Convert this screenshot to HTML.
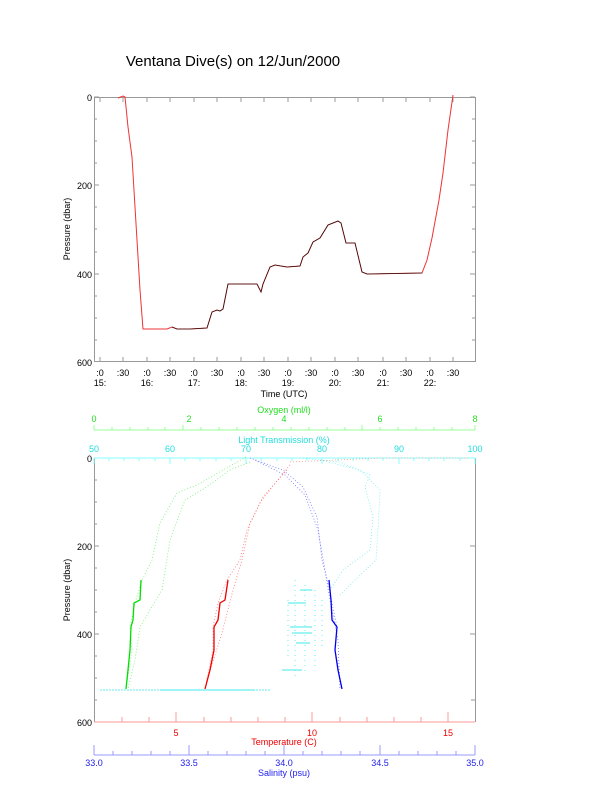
<!DOCTYPE html>
<html><head><style>body{margin:0;background:#fff}svg{display:block}text{font-family:"Liberation Sans",sans-serif}</style></head>
<body>
<svg width="612" height="785" viewBox="0 0 612 785" xmlns="http://www.w3.org/2000/svg">
<rect width="612" height="785" fill="#fff"/>
<text x="233" y="66" font-size="15" text-anchor="middle">Ventana Dive(s) on 12/Jun/2000</text>
<g stroke="#999" fill="none" stroke-width="1">
<rect x="94.5" y="97.5" width="381" height="264"/>
<path d="M94 97h5M94 119h3M94 141h3M94 163h3M94 185h5M94 207h3M94 229h3M94 252h3M94 274h5M94 296h3M94 318h3M94 340h3
M475 97h-5M475 119h-3M475 141h-3M475 163h-3M475 185h-5M475 207h-3M475 229h-3M475 252h-3M475 274h-5M475 296h-3M475 318h-3M475 340h-3
M100 362v-5M123 362v-5M147 362v-5M170 362v-5M194 362v-5M217 362v-5M241 362v-5M264 362v-5M288 362v-5M311 362v-5M335 362v-5M358 362v-5M383 362v-5M406 362v-5M430 362v-5M453 362v-5
M100 97v5M123 97v5M147 97v5M170 97v5M194 97v5M217 97v5M241 97v5M264 97v5M288 97v5M311 97v5M335 97v5M358 97v5M383 97v5M406 97v5M430 97v5M453 97v5"/>
</g>
<g font-size="9" text-anchor="end"><text x="92" y="101">0</text><text x="92" y="189">200</text><text x="92" y="278">400</text><text x="92" y="366">600</text></g>
<g font-size="9" text-anchor="middle">
<text x="100" y="376">:0</text><text x="123" y="376">:30</text><text x="147" y="376">:0</text><text x="170" y="376">:30</text><text x="194" y="376">:0</text><text x="217" y="376">:30</text><text x="241" y="376">:0</text><text x="264" y="376">:30</text><text x="288" y="376">:0</text><text x="311" y="376">:30</text><text x="335" y="376">:0</text><text x="358" y="376">:30</text><text x="383" y="376">:0</text><text x="406" y="376">:30</text><text x="430" y="376">:0</text><text x="453" y="376">:30</text>
<text x="100" y="386">15:</text><text x="147" y="386">16:</text><text x="194" y="386">17:</text><text x="241" y="386">18:</text><text x="288" y="386">19:</text><text x="335" y="386">20:</text><text x="383" y="386">21:</text><text x="430" y="386">22:</text>
<text x="284" y="397">Time (UTC)</text></g>
<text transform="translate(70,229) rotate(-90)" font-size="9" text-anchor="middle">Pressure (dbar)</text>
<path d="M118 98L123 96L125 97L128 127L132 157L135 207L140 290L143 329L167 329L172 327L177 329L190 329L207 328L212 312L217 310L220 311L223 309L228 284L257 284L261 292L263 284L270 267L275 265L287 267L300 266L303 257L308 253L313 242L320 238L328 225L338 221L341 223L346 243L355 243L362 272L367 274L422 273L427 260L432 238L439 200L443 173L448 130L453 95" fill="none" stroke="#e33" stroke-width="1"/>
<path d="M172 327L177 329L190 329L207 328L212 312L217 310L220 311L223 309L228 284L257 284L261 292L263 284L270 267L275 265L287 267L300 266L303 257L308 253L313 242L320 238L328 225L338 221L341 223L346 243L355 243L362 272L367 274L422 273" fill="none" stroke="#311" stroke-width="0.8"/>

<g fill="none" stroke-width="1">
<path d="M94.5 458v264M475.5 458v264" stroke="#999"/>
<path d="M94 722h381" stroke="#f99"/>
<path d="M94 458h381" stroke="#8ff"/>
<path d="M94 480h3M94 502h3M94 524h3M94 546h5M94 568h3M94 590h3M94 612h3M94 634h5M94 656h3M94 678h3M94 700h3M475 546h-5M475 634h-5M475 700h-4" stroke="#999"/>
<path d="M94 430h381M94 425v5M112 427v3M130 427v3M148 427v3M165 427v3M183 425v5M201 427v3M219 427v3M237 427v3M255 427v3M273 427v3M291 427v3M309 427v3M327 427v3M345 427v3M362 425v5M380 427v3M398 427v3M416 427v3M434 427v3M452 427v3M475 425v5" stroke="#9f9"/>
<path d="M94 458v6M109 458v3M124 458v3M139 458v3M155 458v3M170 458v6M185 458v3M200 458v3M216 458v3M231 458v3M246 458v6M261 458v3M277 458v3M292 458v3M307 458v3M322 458v6M338 458v3M353 458v3M368 458v3M383 458v3M399 458v6M414 458v3M429 458v3M444 458v3M460 458v3M475 458v6" stroke="#8ff"/>
<path d="M122 722v-5M149 722v-5M176 722v-10M204 722v-5M231 722v-5M258 722v-5M285 722v-5M312 722v-10M340 722v-5M367 722v-5M394 722v-5M421 722v-5M448 722v-10" stroke="#f99"/>
<path d="M94 755h381M94 745v10M113 751v4M132 751v4M151 751v4M170 751v4M189 745v10M208 751v4M227 751v4M246 751v4M265 751v4M284 745v10M303 751v4M322 751v4M341 751v4M360 751v4M380 745v10M399 751v4M418 751v4M437 751v4M456 751v4M475 745v10" stroke="#99f"/>
</g>
<g font-size="9" text-anchor="middle" fill="#2d2">
<text x="284" y="413">Oxygen (ml/l)</text><text x="94" y="422">0</text><text x="189" y="422">2</text><text x="284" y="422">4</text><text x="380" y="422">6</text><text x="475" y="422">8</text></g>
<g font-size="9" text-anchor="middle" fill="#2dd">
<text x="284" y="443">Light Transmission (%)</text><text x="94" y="452">50</text><text x="170" y="452">60</text><text x="246" y="452">70</text><text x="322" y="452">80</text><text x="399" y="452">90</text><text x="475" y="452">100</text></g>
<g font-size="9" text-anchor="middle" fill="#e00">
<text x="176" y="736">5</text><text x="312" y="736">10</text><text x="448" y="736">15</text><text x="284" y="745">Temperature (C)</text></g>
<g font-size="9" text-anchor="middle" fill="#22e">
<text x="94" y="766">33.0</text><text x="189" y="766">33.5</text><text x="284" y="766">34.0</text><text x="380" y="766">34.5</text><text x="475" y="766">35.0</text><text x="284" y="776">Salinity (psu)</text></g>
<g font-size="9" text-anchor="end"><text x="92" y="462">0</text><text x="92" y="550">200</text><text x="92" y="638">400</text><text x="92" y="726">600</text></g>
<text transform="translate(70,590) rotate(-90)" font-size="9" text-anchor="middle">Pressure (dbar)</text>

<g fill="none" stroke-width="0.8" stroke-dasharray="1 2">
<path d="M246 457L223 470L197 485L177 493L160 523L152 560L142 580L135 603L130 627L132 650L126 689" stroke="#7e7"/>
<path d="M250 462L230 470L205 488L185 500L170 540L162 590L150 610L140 627L135 660L128 689" stroke="#7e7"/>
<path d="M290 465L272 487L260 503L247 530L240 560L227 580L218 603L213 627L213 650L205 689" stroke="#f77"/>
<path d="M287 470L263 497L250 523L242 560L233 590L222 633L207 680" stroke="#f77"/>
<path d="M250 458L283 470L303 487L317 517L322 560L328 583L332 603L337 627L335 650L342 689" stroke="#77f"/>
<path d="M255 460L285 475L305 495L318 530L325 570L330 600L338 640L340 689" stroke="#77f"/>
<path d="M300 458L340 462L370 475L365 487L373 517L370 550L343 570L330 590" stroke="#7ee"/>
<path d="M320 460L360 470L380 490L378 530L376 560L355 580L340 595" stroke="#7ee"/>
<path d="M290 462L380 458L470 458" stroke="#f99"/>
</g>
<g fill="none" stroke-width="1.3">
<path d="M141 580L140 600L134 603L133 620L131 627L130 650L128 670L126 689" stroke="#0d0"/>
<path d="M228 580L225 600L220 603L218 620L214 627L214 650L210 670L205 689" stroke="#e00"/>
<path d="M329 580L331 600L332 620L337 627L335 650L338 670L342 689" stroke="#00e"/>
<path d="M130 627h9M212 627h9M333 627h8" stroke-width="1"/>
</g>
<g stroke="#6ee" stroke-width="1" fill="none">
<path d="M100 690H270" stroke-dasharray="2 1"/>
<path d="M160 690h95M288 603h18M290 627h22M292 633h20M296 643h14M282 670h20M300 590h12" stroke-width="1.2"/>
<path d="M295 580v100M305 585v90M315 590v80M288 600v60M322 600v50" stroke-dasharray="1 4" stroke-width="1"/>
</g>
</svg>
</body></html>
